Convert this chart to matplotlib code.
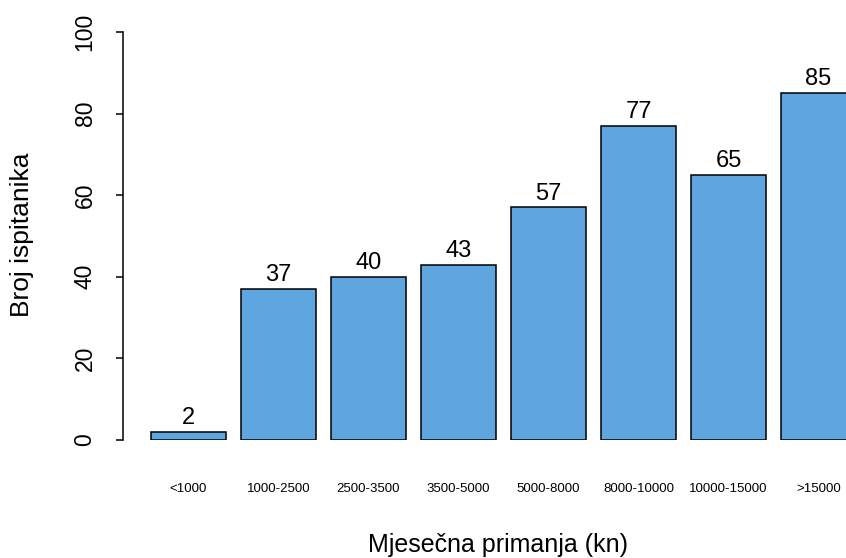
import matplotlib.pyplot as plt

plt.rcParams['font.family'] = ['Liberation Sans', 'DejaVu Sans']

categories = ['<1000', '1000-2500', '2500-3500', '3500-5000',
              '5000-8000', '8000-10000', '10000-15000', '>15000']
counts = [2, 37, 40, 43, 57, 77, 65, 85]

W, H = 846, 558
fig = plt.figure(figsize=(W / 100, H / 100), dpi=100)

# plot region in pixels (R-style barplot, right side clipped by the image)
x0, x1 = 136, 856
y0, y1 = 440, 32
ax = fig.add_axes([x0 / W, (H - y0) / H, (x1 - x0) / W, (y0 - y1) / H])

# R barplot geometry: width 1, space 0.2
centers = [0.7 + 1.2 * i for i in range(len(counts))]
ax.bar(centers, counts, width=1.0, color='#5fa6e0', edgecolor='black', linewidth=1.1)
ax.set_xlim(0, 9.6)
ax.set_ylim(0, 100)

for c, v in zip(centers, counts):
    ax.annotate(str(v), (c, v), xytext=(0, 2), textcoords='offset points',
                ha='center', va='bottom', fontsize=17)

for s in ['top', 'right', 'bottom']:
    ax.spines[s].set_visible(False)
ax.spines['left'].set_position(('outward', 13 * 0.72))
ax.spines['left'].set_bounds(0, 100)
ax.spines['left'].set_linewidth(1.1)

ax.set_yticks([0, 20, 40, 60, 80, 100])
ax.tick_params(axis='y', length=5, width=1.1, pad=14, labelsize=16.5)
for t in ax.get_yticklabels():
    t.set_rotation(90)
    t.set_va('center')

ax.set_xticks(centers)
ax.set_xticklabels(categories, fontsize=9.5)
ax.tick_params(axis='x', length=0, pad=31)

fig.text(497.5 / W, 1 - 545 / H, 'Mjesečna primanja (kn)', ha='center', va='center', fontsize=18)
fig.text(22 / W, 1 - 235 / H, 'Broj ispitanika', ha='center', va='center', fontsize=19, rotation=90)

fig.savefig('out.png', dpi=100)
